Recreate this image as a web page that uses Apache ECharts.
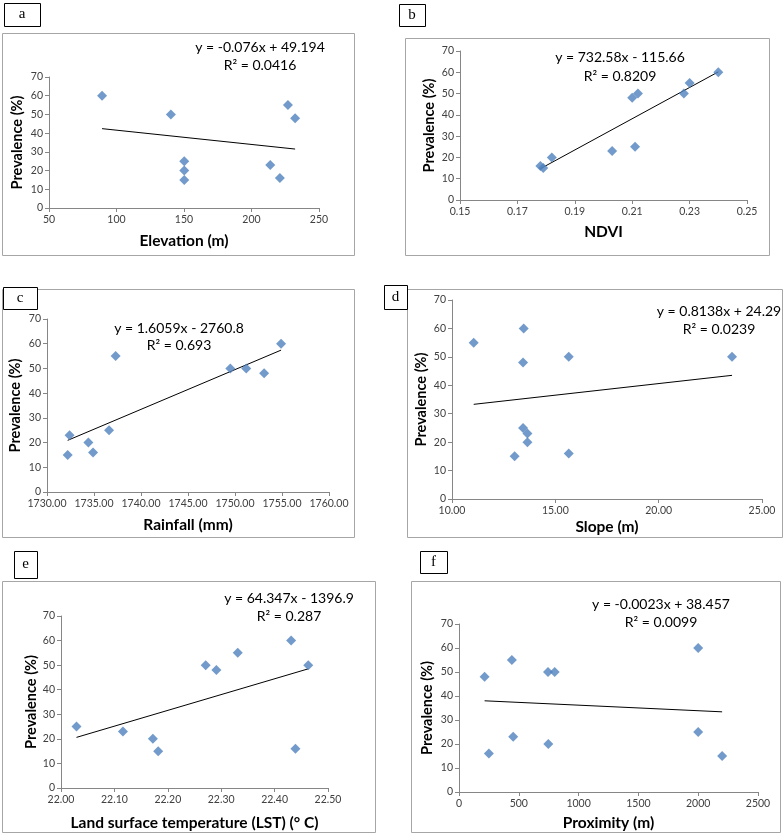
<!DOCTYPE html>
<html><head><meta charset="utf-8">
<script src="https://cdn.jsdelivr.net/npm/echarts@6/dist/echarts.min.js"></script>
<style>html,body{margin:0;padding:0;background:#fff}#c{width:784px;height:834px}</style>
</head><body><div id="c"></div>
<script>
// ---- data ----
const elevX = [89.3, 140.3, 150.2, 150.2, 150.2, 213.9, 221, 227, 232.3];
const elevY = [60, 50, 25, 20, 15, 23, 16, 55, 48];
const elevTrend = [[89.3, 42.4], [232.3, 31.5]];

const ndviX = [0.178, 0.179, 0.182, 0.203, 0.210, 0.211, 0.212, 0.228, 0.230, 0.240];
const ndviY = [16, 15, 20, 23, 48, 25, 50, 50, 55, 60];
const ndviTrend = [[0.178, 14.7], [0.240, 60.2]];

const rainX = [1732.2, 1732.4, 1734.4, 1734.9, 1736.6, 1737.3, 1749.5, 1751.2, 1753.1, 1754.9];
const rainY = [15, 23, 20, 16, 25, 55, 50, 50, 48, 60];
const rainTrend = [[1732.2, 20.9], [1754.9, 57.4]];

const slopeX = [11.05, 13.47, 13.44, 15.65, 13.44, 13.65, 13.65, 13.03, 15.65, 23.55];
const slopeY = [55, 60, 48, 50, 25, 23, 20, 15, 16, 50];
const slopeTrend = [[11.05, 33.3], [23.55, 43.5]];

const lstX = [22.029, 22.116, 22.172, 22.182, 22.271, 22.291, 22.331, 22.431, 22.439, 22.463];
const lstY = [25, 23, 20, 15, 50, 48, 55, 60, 16, 50];
const lstTrend = [[22.029, 20.6], [22.463, 48.5]];

const proxX = [214, 250, 442, 453, 744, 800, 747, 2000, 2000, 2200];
const proxY = [48, 16, 55, 23, 50, 50, 20, 60, 25, 15];
const proxTrend = [[214, 38.0], [2200, 33.4]];

const yTicks = {min: 0, max: 70, interval: 10};
const panelLabels = ['a', 'b', 'c', 'd', 'e', 'f'];
const xTitles = ['Elevation (m)', 'NDVI', 'Rainfall (mm)', 'Slope (m)', 'Land surface temperature (LST) (\u00B0 C)', 'Proximity (m)'];
const yTitle = 'Prevalence (%)';
const equations = ['y = -0.076x + 49.194', 'y = 732.58x - 115.66', 'y = 1.6059x - 2760.8', 'y = 0.8138x + 24.29', 'y = 64.347x - 1396.9', 'y = -0.0023x + 38.457'];
const r2s = ['R\u00B2 = 0.0416', 'R\u00B2 = 0.8209', 'R\u00B2 = 0.693', 'R\u00B2 = 0.0239', 'R\u00B2 = 0.287', 'R\u00B2 = 0.0099'];
const xScales = [
  {min: 50, max: 250, interval: 50, dec: 0},
  {min: 0.15, max: 0.25, interval: 0.02, dec: 2},
  {min: 1730, max: 1760, interval: 5, dec: 2},
  {min: 10, max: 25, interval: 5, dec: 2},
  {min: 22.0, max: 22.5, interval: 0.1, dec: 2},
  {min: 0, max: 2500, interval: 500, dec: 0}
];
const xs = [elevX, ndviX, rainX, slopeX, lstX, proxX];
const ys = [elevY, ndviY, rainY, slopeY, lstY, proxY];
const trends = [elevTrend, ndviTrend, rainTrend, slopeTrend, lstTrend, proxTrend];

// ---- layout ----
const grids = [
  {left: 49, top: 77, width: 270, height: 131},
  {left: 460, top: 51, width: 287, height: 149},
  {left: 47, top: 319, width: 282, height: 173},
  {left: 452, top: 300, width: 310, height: 199},
  {left: 61, top: 616, width: 267, height: 172},
  {left: 459, top: 624, width: 299, height: 168}
];
const xGaps = [25, 24, 25, 20, 27, 23];
const yGaps = [24, 23, 24, 23, 22, 24];
const frames = [
  [2, 33, 352, 222], [405, 38, 364, 217], [2, 289, 352, 248],
  [407, 289, 375, 248], [2, 581, 373, 251], [411, 581, 369, 251]
];
const boxes = [
  [4, 3, 36, 23], [399, 4, 26, 22], [3, 287, 34, 22],
  [384, 285, 23, 24], [14, 551, 23, 27], [420, 551, 27, 22]
];
const eqPos = [[260, 47, 65], [620, 57, 76], [179, 328, 345], [719, 311, 329], [289, 598, 616], [661, 604, 622]];

const FONT = 'Lato';
const axisCol = '#868686';
const labelCol = '#404040';

const option = {
  backgroundColor: '#fff',
  animation: false,
  grid: [], xAxis: [], yAxis: [], series: [], graphic: []
};

for (let i = 0; i < 6; i++) {
  option.graphic.push({type: 'rect', shape: {x: frames[i][0] + 0.5, y: frames[i][1] + 0.5, width: frames[i][2], height: frames[i][3]},
    style: {fill: '#fff', stroke: '#A6A6A6', lineWidth: 1}, z: -10});
}
for (let i = 0; i < 6; i++) {
  const g = grids[i];
  option.grid.push(Object.assign({containLabel: false}, g));
  const s = xScales[i];
  option.xAxis.push({
    type: 'value', gridIndex: i, min: s.min, max: s.max, interval: s.interval,
    name: xTitles[i], nameLocation: 'middle', nameGap: xGaps[i],
    nameTextStyle: {fontFamily: FONT, fontWeight: 'bold', fontSize: 15.5, color: '#000'},
    axisLine: {show: true, lineStyle: {color: axisCol}},
    axisTick: {show: true, length: 4, lineStyle: {color: axisCol}},
    splitLine: {show: false},
    axisLabel: {fontFamily: FONT, fontSize: 10.5, color: labelCol, margin: 6,
      formatter: v => Number(v).toFixed(s.dec)}
  });
  option.yAxis.push({
    type: 'value', gridIndex: i, min: yTicks.min, max: yTicks.max, interval: yTicks.interval,
    name: yTitle, nameLocation: 'middle', nameGap: yGaps[i],
    nameTextStyle: {fontFamily: FONT, fontWeight: 'bold', fontSize: 14.5, color: '#000'},
    axisLine: {show: true, lineStyle: {color: axisCol}},
    axisTick: {show: true, length: 4, lineStyle: {color: axisCol}},
    splitLine: {show: false},
    axisLabel: {fontFamily: FONT, fontSize: 10.5, color: labelCol, margin: 6}
  });
  option.series.push({
    type: 'line', xAxisIndex: i, yAxisIndex: i, data: trends[i], showSymbol: false, symbol: 'none',
    lineStyle: {color: '#000', width: 1}, z: 2, silent: true
  });
  option.series.push({
    type: 'scatter', xAxisIndex: i, yAxisIndex: i, symbol: 'diamond', symbolSize: 10,
    itemStyle: {color: '#4F81BD'}, z: 3,
    data: xs[i].map((x, k) => [x, ys[i][k]])
  });
  const b = boxes[i];
  option.graphic.push({type: 'rect', shape: {x: b[0] + 0.5, y: b[1] + 0.5, width: b[2], height: b[3]},
    style: {fill: '#fff', stroke: '#000', lineWidth: 1}, z: 10});
  option.graphic.push({type: 'text', x: b[0] + b[2] / 2, y: b[1] + b[3] / 2, z: 11,
    style: {text: panelLabels[i], font: '15px "Liberation Serif"', fill: '#000', align: 'center', verticalAlign: 'middle'}});
  const e = eqPos[i];
  option.graphic.push({type: 'text', x: e[0], y: e[1], z: 11,
    style: {text: equations[i], font: '14px ' + FONT, fill: '#000', align: 'center', verticalAlign: 'middle'}});
  option.graphic.push({type: 'text', x: e[0], y: e[2], z: 11,
    style: {text: r2s[i], font: '14px ' + FONT, fill: '#000', align: 'center', verticalAlign: 'middle'}});
}

const chart = echarts.init(document.getElementById('c'), null, {renderer: 'canvas'});
chart.setOption(option);
</script>
</body></html>
